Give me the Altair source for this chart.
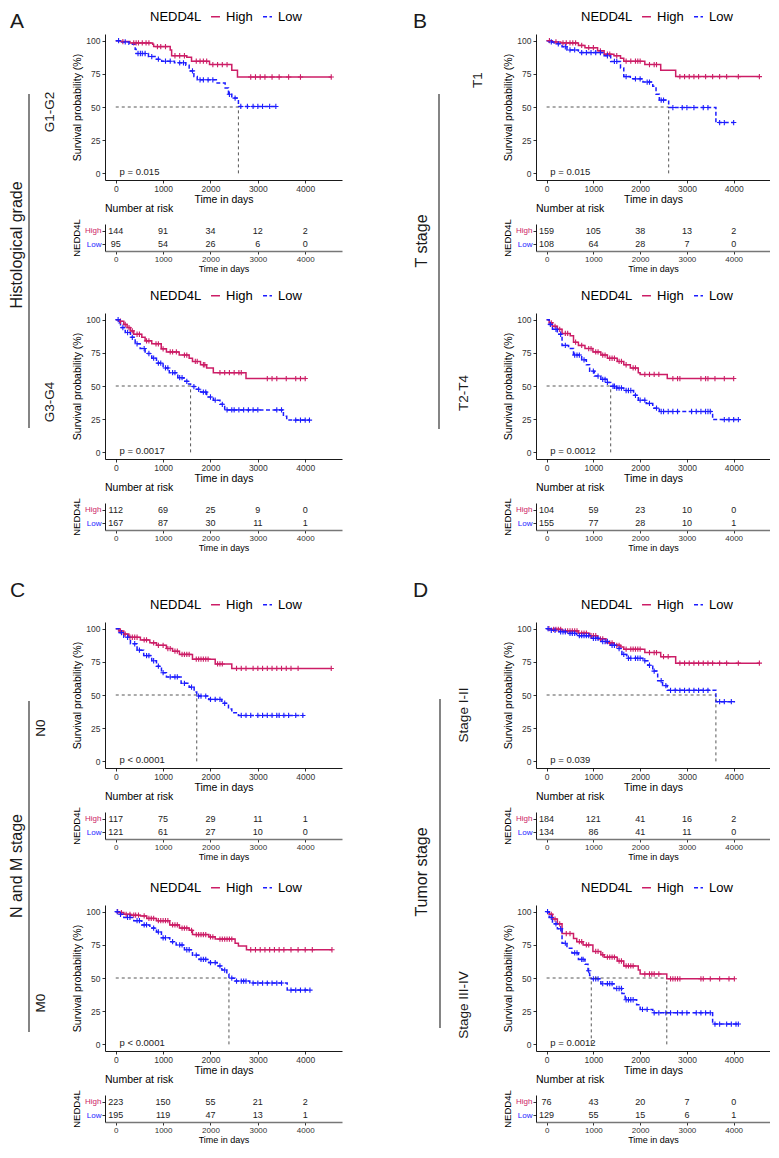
import altair as alt
import pandas as pd

# ---------------------------------------------------------------- data
GROUPS = ["High", "Low"]
RISK_TIMES = [0, 1000, 2000, 3000, 4000]

# A: Histological grade G1-G2
A1_HIGH_TIME = [0, 100, 300, 780, 800, 1150, 1180, 1500, 1600, 1980, 2450, 2570, 4550]
A1_HIGH_SURV = [100, 99.3, 98.3, 97.3, 95.5, 93.0, 88.6, 87.4, 84.5, 82.0, 77.6, 72.6, 72.6]
A1_HIGH_CENS = [150, 380, 430, 480, 560, 640, 700, 880, 950, 1050, 1250, 1350, 1450, 1700, 1780, 1850,
                1920, 2050, 2150, 2250, 2350, 2850, 2950, 3050, 3150, 3300, 3450, 3650, 3900, 4550]
A1_LOW_TIME = [0, 100, 280, 410, 430, 690, 830, 970, 1240, 1480, 1550, 1650, 1720, 2140, 2310, 2380, 2450, 2590, 3410]
A1_LOW_SURV = [100, 99.0, 97.3, 93.5, 90.3, 88.0, 86.0, 84.5, 83.3, 81.4, 77.2, 73.0, 70.5, 68.0, 64.4, 59.6, 56.7, 50.4, 50.4]
A1_LOW_CENS = [60, 200, 470, 520, 560, 620, 760, 900, 1050, 1150, 1350, 1430, 1620, 1780, 1850, 1950, 2050,
               2400, 2520, 2640, 2780, 2900, 3000, 3100, 3250, 3380]
A1_RISK_HIGH = [144, 91, 34, 12, 2]
A1_RISK_LOW = [95, 54, 26, 6, 0]
A1_PVAL = "p = 0.015"
A1_MEDIANS = [2590]

# A: Histological grade G3-G4
A2_HIGH_TIME = [0, 70, 170, 240, 310, 380, 550, 620, 760, 960, 1070, 1340, 1550, 1620, 1790, 1920, 2060, 2750, 4020]
A2_HIGH_SURV = [100, 98.8, 96.4, 94.0, 91.5, 89.0, 86.7, 84.0, 81.8, 78.0, 75.7, 73.3, 71.0, 68.5, 66.0, 63.6, 60.0, 55.6, 55.6]
A2_HIGH_CENS = [100, 200, 280, 350, 450, 500, 650, 700, 850, 900, 1000, 1150, 1200, 1280, 1450, 1500, 1680,
                1720, 1850, 1880, 2200, 2300, 2400, 2500, 2600, 2650, 3200, 3300, 3400, 3600, 3800, 3900, 4000]
A2_LOW_TIME = [0, 70, 100, 200, 310, 410, 515, 620, 760, 860, 1000, 1130, 1310, 1440, 1520, 1580, 1700, 1790,
               1920, 2060, 2200, 2300, 3540, 3610, 4090]
A2_LOW_SURV = [100, 97.6, 94.0, 90.3, 86.7, 81.8, 78.2, 74.5, 71.0, 67.2, 63.6, 60.0, 56.3, 53.5, 51.5, 49.6, 47.5,
               45.4, 41.7, 39.3, 36.2, 32.0, 27.2, 24.3, 24.3]
A2_LOW_CENS = [50, 150, 250, 350, 450, 600, 700, 800, 900, 950, 1050, 1100, 1200, 1250, 1350, 1400, 1500, 1650,
               1750, 1850, 1900, 2000, 2100, 2250, 2350, 2450, 2500, 2600, 2700, 2800, 2900, 3000, 3400, 3500,
               3800, 3900, 4000, 4090]
A2_RISK_HIGH = [112, 69, 25, 9, 0]
A2_RISK_LOW = [167, 87, 30, 11, 1]
A2_PVAL = "p = 0.0017"
A2_MEDIANS = [1580]

# B: T stage T1
B1_HIGH_TIME = [0, 125, 300, 680, 820, 1090, 1230, 1440, 1580, 1650, 2100, 2440, 2760, 4550]
B1_HIGH_SURV = [100, 99.0, 98.3, 96.4, 94.7, 92.3, 89.8, 88.6, 86.7, 84.5, 82.0, 77.7, 72.9, 72.9]
B1_HIGH_CENS = [60, 200, 350, 420, 500, 560, 620, 750, 900, 1000, 1150, 1300, 1350, 1500, 1700, 1800, 1900,
                1950, 2000, 2200, 2300, 2350, 2850, 2950, 3050, 3150, 3250, 3400, 3550, 3700, 3850, 4100, 4550]
B1_LOW_TIME = [0, 55, 160, 330, 435, 680, 1230, 1370, 1580, 1650, 1790, 2060, 2270, 2340, 2410, 2610, 3620, 4000]
B1_LOW_SURV = [100, 99.0, 97.6, 95.4, 93.0, 91.0, 88.6, 84.3, 79.4, 72.9, 71.2, 68.8, 65.6, 59.6, 55.2, 49.6, 38.3, 38.3]
B1_LOW_CENS = [100, 250, 400, 500, 600, 750, 850, 950, 1050, 1150, 1300, 1450, 1500, 1700, 1900, 2000, 2150,
               2200, 2450, 2500, 2700, 2900, 3000, 3150, 3350, 3450, 3700, 3800, 4000]
B1_RISK_HIGH = [159, 105, 38, 13, 2]
B1_RISK_LOW = [108, 64, 28, 7, 0]
B1_PVAL = "p = 0.015"
B1_MEDIANS = [2610]

# B: T stage T2-T4
B2_HIGH_TIME = [0, 55, 125, 230, 330, 505, 575, 680, 820, 990, 1160, 1300, 1510, 1650, 1790, 1960, 2000, 2580, 4000]
B2_HIGH_SURV = [100, 97.6, 95.0, 92.7, 89.6, 87.9, 83.0, 80.6, 78.2, 75.7, 73.3, 70.9, 68.5, 66.0, 63.6, 60.0, 58.7, 55.6, 55.6]
B2_HIGH_CENS = [100, 180, 280, 400, 450, 620, 750, 900, 950, 1050, 1100, 1200, 1250, 1350, 1400, 1450, 1550,
                1600, 1700, 1850, 1900, 2100, 2200, 2300, 2400, 2700, 2800, 2850, 3300, 3400, 3450, 3600, 3800, 4000]
B2_LOW_TIME = [0, 55, 125, 230, 330, 470, 575, 750, 850, 920, 1020, 1160, 1290, 1370, 1500, 1650, 1860, 1960,
               2130, 2270, 2410, 3550, 4100]
B2_LOW_SURV = [100, 96.4, 92.7, 89.0, 80.6, 78.2, 73.3, 69.7, 66.0, 61.2, 57.5, 55.0, 52.7, 49.8, 48.5, 46.6, 43.0,
               39.3, 36.9, 33.3, 30.8, 24.7, 24.7]
B2_LOW_CENS = [80, 200, 300, 400, 600, 650, 700, 800, 1000, 1100, 1200, 1250, 1300, 1420, 1450, 1500, 1550, 1600,
               1700, 1750, 1800, 1900, 2000, 2100, 2200, 2350, 2450, 2500, 2600, 2700, 2800, 3100, 3200, 3300,
               3400, 3450, 3500, 3800, 3900, 4000, 4100]
B2_RISK_HIGH = [104, 59, 23, 10, 0]
B2_RISK_LOW = [155, 77, 28, 10, 1]
B2_PVAL = "p = 0.0012"
B2_MEDIANS = [1370]

# C: N and M stage N0
C1_HIGH_TIME = [0, 70, 170, 275, 520, 720, 860, 1070, 1200, 1345, 1620, 2100, 2450, 4550]
C1_HIGH_SURV = [100, 98.3, 95.9, 93.5, 91.5, 89.3, 87.4, 85.0, 83.0, 80.6, 77.0, 73.4, 70.0, 70.0]
C1_HIGH_CENS = [100, 200, 300, 350, 400, 450, 600, 650, 800, 900, 1000, 1100, 1150, 1250, 1300, 1400, 1450,
                1500, 1550, 1700, 1750, 1800, 1850, 1900, 1950, 2150, 2200, 2250, 2550, 2650, 2750, 2900, 3000,
                3100, 3200, 3300, 3400, 3500, 3600, 3700, 3850, 4550]
C1_LOW_TIME = [0, 70, 170, 310, 450, 590, 760, 860, 965, 1070, 1380, 1550, 1655, 1710, 1965, 2240, 2380, 2450, 2590, 3965]
C1_LOW_SURV = [100, 97.0, 93.5, 88.6, 83.8, 79.7, 75.8, 71.7, 66.8, 63.6, 58.8, 55.9, 52.3, 49.2, 46.7, 43.8, 39.5, 36.6, 34.6, 34.6]
C1_LOW_CENS = [120, 250, 400, 500, 650, 700, 800, 900, 1000, 1150, 1250, 1300, 1450, 1600, 1750, 1800, 1900,
               2000, 2100, 2200, 2300, 2650, 2750, 2850, 3000, 3100, 3200, 3300, 3400, 3450, 3550, 3650, 3800, 3950]
C1_RISK_HIGH = [117, 75, 29, 11, 1]
C1_RISK_LOW = [121, 61, 27, 10, 0]
C1_PVAL = "p < 0.0001"
C1_MEDIANS = [1710]

# C: N and M stage M0
C2_HIGH_TIME = [0, 70, 170, 310, 520, 655, 860, 1140, 1345, 1550, 1620, 1965, 2100, 2520, 2590, 2760, 4565]
C2_HIGH_SURV = [100, 99.3, 98.0, 97.3, 96.8, 94.9, 93.2, 90.0, 87.6, 85.9, 82.7, 81.0, 79.3, 76.2, 74.2, 71.3, 71.3]
C2_HIGH_CENS = [40, 120, 220, 300, 380, 420, 480, 600, 700, 750, 800, 900, 950, 1000, 1050, 1100, 1200, 1250,
                1300, 1400, 1450, 1500, 1600, 1700, 1750, 1800, 1850, 1900, 2000, 2050, 2200, 2250, 2300, 2350,
                2400, 2450, 2850, 2950, 3050, 3150, 3250, 3350, 3450, 3550, 3700, 3850, 4000, 4150, 4565]
C2_LOW_TIME = [0, 70, 170, 380, 550, 720, 860, 965, 1140, 1275, 1450, 1620, 1760, 1965, 2140, 2240, 2345, 2390,
               2520, 2830, 3620, 4100]
C2_LOW_SURV = [100, 98.0, 95.6, 93.2, 90.0, 87.6, 84.7, 80.3, 77.4, 74.9, 71.3, 67.2, 64.0, 61.6, 59.1, 56.0, 53.0,
               49.9, 47.7, 46.2, 40.9, 40.9]
C2_LOW_CENS = [30, 100, 250, 300, 450, 500, 600, 650, 800, 900, 1000, 1050, 1200, 1350, 1400, 1500, 1550, 1700,
               1800, 1850, 1900, 2000, 2100, 2200, 2300, 2450, 2550, 2650, 2700, 2750, 2900, 3000, 3100, 3200,
               3300, 3400, 3500, 3700, 3800, 3900, 4000, 4100]
C2_RISK_HIGH = [223, 150, 55, 21, 2]
C2_RISK_LOW = [195, 119, 47, 13, 1]
C2_PVAL = "p < 0.0001"
C2_MEDIANS = [2390]

# D: Tumor stage I-II
D1_HIGH_TIME = [0, 90, 330, 680, 920, 1090, 1270, 1440, 1580, 1650, 2100, 2440, 2760, 4550]
D1_HIGH_SURV = [100, 99.5, 98.3, 96.6, 94.7, 92.3, 89.3, 87.4, 86.2, 84.5, 82.0, 78.9, 74.0, 74.0]
D1_HIGH_CENS = [50, 150, 200, 250, 300, 400, 450, 500, 550, 600, 650, 750, 800, 850, 950, 1000, 1050, 1150,
                1200, 1350, 1400, 1500, 1550, 1700, 1800, 1850, 1900, 1950, 2000, 2200, 2300, 2350, 2500, 2600,
                2850, 2950, 3050, 3150, 3250, 3350, 3450, 3550, 3700, 3850, 4100, 4550]
D1_LOW_TIME = [0, 90, 260, 435, 645, 955, 1160, 1370, 1510, 1610, 1715, 2060, 2165, 2270, 2375, 2480, 2580, 3620, 4030]
D1_LOW_SURV = [100, 98.8, 97.6, 96.4, 94.7, 92.7, 90.3, 87.4, 85.0, 80.6, 77.7, 75.8, 72.4, 68.0, 60.8, 57.1, 53.5, 45.0, 45.0]
D1_LOW_CENS = [30, 100, 180, 300, 350, 400, 500, 550, 600, 700, 750, 800, 850, 900, 1000, 1050, 1100, 1200,
               1250, 1300, 1400, 1450, 1550, 1650, 1750, 1800, 1900, 1950, 2000, 2100, 2200, 2300, 2450, 2550,
               2650, 2750, 2850, 2950, 3050, 3150, 3250, 3350, 3450, 3700, 3800, 3950]
D1_RISK_HIGH = [184, 121, 41, 16, 2]
D1_RISK_LOW = [134, 86, 41, 11, 0]
D1_PVAL = "p = 0.039"
D1_MEDIANS = [3620]

# D: Tumor stage III-IV
D2_HIGH_TIME = [0, 55, 125, 230, 330, 575, 645, 780, 990, 1160, 1230, 1510, 1650, 1960, 2000, 2570, 4015]
D2_HIGH_SURV = [100, 98.0, 94.4, 90.8, 83.5, 79.8, 77.4, 74.9, 70.0, 67.6, 65.7, 62.8, 59.1, 56.0, 53.0, 49.4, 49.4]
D2_HIGH_CENS = [100, 180, 280, 420, 500, 700, 750, 850, 900, 1050, 1100, 1200, 1300, 1350, 1400, 1450, 1550,
                1600, 1700, 1750, 1800, 1850, 2100, 2200, 2250, 2300, 2400, 2650, 2700, 2750, 2800, 2850, 3300,
                3350, 3500, 3700, 3900, 4015]
D2_LOW_TIME = [0, 55, 125, 230, 330, 435, 540, 680, 820, 885, 920, 955, 1160, 1440, 1610, 1680, 1925, 2000,
               2270, 3550, 4100]
D2_LOW_SURV = [100, 95.6, 90.8, 87.1, 76.2, 72.5, 68.9, 64.0, 60.3, 55.5, 51.8, 49.4, 45.7, 42.1, 38.4, 33.6,
               29.9, 26.3, 23.8, 15.3, 15.3]
D2_LOW_CENS = [20, 100, 200, 300, 400, 600, 650, 750, 780, 900, 1000, 1050, 1100, 1200, 1300, 1350, 1400,
               1500, 1550, 1600, 1700, 1750, 1800, 1850, 2050, 2150, 2300, 2400, 2550, 2650, 2800, 2900, 3000,
               3200, 3300, 3400, 3500, 3600, 3700, 3850, 3950, 4050, 4100]
D2_RISK_HIGH = [76, 43, 20, 7, 0]
D2_RISK_LOW = [129, 55, 15, 6, 1]
D2_PVAL = "p = 0.0012"
D2_MEDIANS = [955, 2570]

# annotation texts
PANEL_LETTERS = ["A", "B", "C", "D"]
GROUP_TITLES = ["Histological grade", "T stage", "N and M stage", "Tumor stage"]
SUB_TITLES = [["G1-G2", "G3-G4"], ["T1", "T2-T4"], ["N0", "M0"], ["Stage I-II", "Stage III-IV"]]

PANELS = {
    "A1": (A1_HIGH_TIME, A1_HIGH_SURV, A1_HIGH_CENS, A1_LOW_TIME, A1_LOW_SURV, A1_LOW_CENS, A1_RISK_HIGH, A1_RISK_LOW, A1_PVAL, A1_MEDIANS),
    "A2": (A2_HIGH_TIME, A2_HIGH_SURV, A2_HIGH_CENS, A2_LOW_TIME, A2_LOW_SURV, A2_LOW_CENS, A2_RISK_HIGH, A2_RISK_LOW, A2_PVAL, A2_MEDIANS),
    "B1": (B1_HIGH_TIME, B1_HIGH_SURV, B1_HIGH_CENS, B1_LOW_TIME, B1_LOW_SURV, B1_LOW_CENS, B1_RISK_HIGH, B1_RISK_LOW, B1_PVAL, B1_MEDIANS),
    "B2": (B2_HIGH_TIME, B2_HIGH_SURV, B2_HIGH_CENS, B2_LOW_TIME, B2_LOW_SURV, B2_LOW_CENS, B2_RISK_HIGH, B2_RISK_LOW, B2_PVAL, B2_MEDIANS),
    "C1": (C1_HIGH_TIME, C1_HIGH_SURV, C1_HIGH_CENS, C1_LOW_TIME, C1_LOW_SURV, C1_LOW_CENS, C1_RISK_HIGH, C1_RISK_LOW, C1_PVAL, C1_MEDIANS),
    "C2": (C2_HIGH_TIME, C2_HIGH_SURV, C2_HIGH_CENS, C2_LOW_TIME, C2_LOW_SURV, C2_LOW_CENS, C2_RISK_HIGH, C2_RISK_LOW, C2_PVAL, C2_MEDIANS),
    "D1": (D1_HIGH_TIME, D1_HIGH_SURV, D1_HIGH_CENS, D1_LOW_TIME, D1_LOW_SURV, D1_LOW_CENS, D1_RISK_HIGH, D1_RISK_LOW, D1_PVAL, D1_MEDIANS),
    "D2": (D2_HIGH_TIME, D2_HIGH_SURV, D2_HIGH_CENS, D2_LOW_TIME, D2_LOW_SURV, D2_LOW_CENS, D2_RISK_HIGH, D2_RISK_LOW, D2_PVAL, D2_MEDIANS),
}

# ---------------------------------------------------------------- style / layout
RED = "#cc1d66"
BLUE = "#1c1cff"
FONT = "Liberation Sans"
X_DOMAIN = [-227, 4777]
Y_DOMAIN = [-5, 105]
KM_H = 146
RISK_H = 27
COL_W = [96, 237, 194, 234]
ROW_H = [25, KM_H, 44, RISK_H, 62, KM_H, 44, RISK_H, 92, KM_H, 44, RISK_H, 66, KM_H, 44, RISK_H]
PLUS = "M-1,0L1,0M0,-1L0,1"


def step_value(times, surv, t):
    val = surv[0]
    for ti, si in zip(times, surv):
        if ti <= t:
            val = si
    return val


def color_scale():
    return alt.Scale(domain=GROUPS, range=[RED, BLUE])


def dash_scale():
    return alt.Scale(domain=GROUPS, range=[[1, 0], [4, 2.5]])


def km_chart(key, width):
    ht, hs, hc, lt, ls, lc, rh, rl, pval, medians = PANELS[key]
    curve_rows, cens_rows = [], []
    for g, tt, ss, cc in [("High", ht, hs, hc), ("Low", lt, ls, lc)]:
        for t, s in zip(tt, ss):
            curve_rows.append({"time": t, "surv": s, "group": g})
        for t in cc:
            cens_rows.append({"time": t, "surv": step_value(tt, ss, t), "group": g})
    curve_df = pd.DataFrame(curve_rows)
    cens_df = pd.DataFrame(cens_rows)

    xs = alt.Scale(domain=X_DOMAIN, nice=False, zero=False)
    ys = alt.Scale(domain=Y_DOMAIN, nice=False, zero=False)
    x_axis = alt.Axis(values=RISK_TIMES, format="d", grid=False, domainColor="black", domainWidth=0.9,
                      tickColor="#333", tickSize=3, labelFontSize=8.5, labelColor="#333", labelPadding=1,
                      titleFontSize=10.5, titleFontWeight="normal", titleColor="black", titlePadding=2)
    y_axis = alt.Axis(values=[0, 25, 50, 75, 100], format="d", grid=False, domainColor="black", domainWidth=0.9,
                      tickColor="#333", tickSize=3, labelFontSize=8.5, labelColor="#333", labelPadding=2,
                      titleFontSize=10.5, titleFontWeight="normal", titleColor="black", titlePadding=3)
    X = alt.X("time:Q", scale=xs, axis=x_axis, title="Time in days")
    Y = alt.Y("surv:Q", scale=ys, axis=y_axis, title="Survival probability (%)")

    leg = alt.Legend(orient="none", legendX=45, legendY=-24, direction="horizontal", titleOrient="left",
                     titleFontSize=13, titleFontWeight="normal", titleColor="black", labelFontSize=13,
                     labelColor="black", symbolType="stroke", symbolSize=80, symbolStrokeWidth=1.6,
                     titlePadding=7, columnPadding=6, labelOffset=4, titleAnchor="middle", titleBaseline="middle")

    lines = alt.Chart(curve_df).mark_line(interpolate="step-after", strokeWidth=1.5).encode(
        x=X, y=Y,
        color=alt.Color("group:N", scale=color_scale(), legend=leg, title="NEDD4L"),
        strokeDash=alt.StrokeDash("group:N", scale=dash_scale(), legend=leg, title="NEDD4L"),
    )
    points = alt.Chart(cens_df).mark_point(shape=PLUS, size=28, filled=False, strokeWidth=1.1, opacity=1).encode(
        x=X, y=Y, color=alt.Color("group:N", scale=color_scale(), legend=None, title="NEDD4L"),
    )
    hline_df = pd.DataFrame({"time": [0], "time2": [max(medians)], "surv": [50]})
    vline_df = pd.DataFrame({"time": medians, "surv": [0] * len(medians), "surv2": [50] * len(medians)})
    hline = alt.Chart(hline_df).mark_rule(color="#444", strokeDash=[3, 3], strokeWidth=0.9).encode(
        x=X, x2="time2:Q", y=Y)
    vline = alt.Chart(vline_df).mark_rule(color="#444", strokeDash=[3, 3], strokeWidth=0.9).encode(
        x=X, y=Y, y2="surv2:Q")
    ptext_df = pd.DataFrame({"time": [80], "surv": [1], "label": [pval]})
    ptext = alt.Chart(ptext_df).mark_text(align="left", baseline="middle", fontSize=9.5, color="#222").encode(
        x=X, y=Y, text="label:N")
    return alt.layer(lines, points, hline, vline, ptext).properties(width=width, height=KM_H)


def risk_chart(key, width):
    ht, hs, hc, lt, ls, lc, rh, rl, pval, medians = PANELS[key]
    rows = []
    for g, counts in [("High", rh), ("Low", rl)]:
        for t, n in zip(RISK_TIMES, counts):
            rows.append({"time": t, "group": g, "n": str(n)})
    df = pd.DataFrame(rows)
    label_color = {"condition": {"test": "datum.value === 'High'", "value": RED}, "value": BLUE}
    return alt.Chart(df).mark_text(fontSize=9, color="#222").encode(
        x=alt.X("time:Q", scale=alt.Scale(domain=X_DOMAIN, nice=False, zero=False),
                axis=alt.Axis(values=RISK_TIMES, format="d", grid=False, domainColor="#777", domainWidth=1.6,
                              tickColor="#333", tickSize=3, labelFontSize=8, labelColor="#333", labelPadding=1,
                              titleFontSize=9, titleFontWeight="normal", titleColor="black", titlePadding=1),
                title="Time in days"),
        y=alt.Y("group:N", scale=alt.Scale(domain=GROUPS, paddingOuter=0.125, paddingInner=0),
                axis=alt.Axis(grid=False, domainColor="black", domainWidth=0.9, tickColor="#333", tickSize=3,
                              labelFontSize=8, labelColor=label_color, labelPadding=1,
                              titleFontSize=9.5, titleFontWeight="normal", titleColor="black", titlePadding=3),
                title="NEDD4L"),
        text="n:N",
    ).properties(width=width, height=RISK_H,
                 title=alt.TitleParams("Number at risk", anchor="start", frame="group", fontSize=10.5,
                                       fontWeight="normal", color="black", offset=4))


def cell_origin(r, c):
    return 8 + sum(COL_W[:c]), 8 + sum(ROW_H[:r])


def strip_chart(r, c, idx, letter_xy, group_xy, line_x, line_y, sub_xys):
    ox, oy = cell_origin(r, c)
    letter_df = pd.DataFrame({"px": [letter_xy[0] - ox], "py": [letter_xy[1] - oy], "label": [PANEL_LETTERS[idx]]})
    group_df = pd.DataFrame({"px": [group_xy[0] - ox], "py": [group_xy[1] - oy], "label": [GROUP_TITLES[idx]]})
    sub_df = pd.DataFrame({"px": [p[0] - ox for p in sub_xys], "py": [p[1] - oy for p in sub_xys],
                           "label": SUB_TITLES[idx]})
    line_df = pd.DataFrame({"px": [line_x - ox], "py": [line_y[0] - oy], "py2": [line_y[1] - oy]})
    PX = alt.X("px:Q", scale=None, axis=None)
    PY = alt.Y("py:Q", scale=None, axis=None)
    letters = alt.Chart(letter_df).mark_text(fontSize=21, align="left", baseline="middle", color="#1a1a1a").encode(
        x=PX, y=PY, text="label:N")
    groups = alt.Chart(group_df).mark_text(fontSize=16, angle=270, align="center", baseline="middle",
                                           color="#1a1a1a").encode(x=PX, y=PY, text="label:N")
    subs = alt.Chart(sub_df).mark_text(fontSize=13.5, angle=270, align="center", baseline="middle",
                                       color="#1a1a1a").encode(x=PX, y=PY, text="label:N")
    rule = alt.Chart(line_df).mark_rule(color="#333", strokeWidth=1.2).encode(x=PX, y=PY, y2="py2:Q")
    return alt.layer(rule, letters, groups, subs).properties(width=COL_W[c], height=ROW_H[r])


SPACER_DF = pd.DataFrame({"v": [0]})


def spacer(w, h):
    return alt.Chart(SPACER_DF).mark_point(opacity=0, size=1).encode(
        x=alt.value(0), y=alt.value(0)).properties(width=w, height=h)


cells = {
    (0, 0): strip_chart(0, 0, 0, (9, 21), (16, 244), 28, (93, 427), [(49, 111), (49, 401)]),
    (0, 2): strip_chart(0, 2, 1, (412, 21), (421, 240), 438, (93, 428), [(477, 79), (463, 392)]),
    (8, 0): strip_chart(8, 0, 2, (9, 590), (16, 865), 28, (700, 1031), [(40, 727), (40, 1002)]),
    (8, 2): strip_chart(8, 2, 3, (412, 590), (421, 871), 439, (698, 1027), [(463, 714), (463, 1004)]),
}
for (r, left_key, right_key) in [(1, "A1", "B1"), (5, "A2", "B2"), (9, "C1", "D1"), (13, "C2", "D2")]:
    cells[(r, 1)] = km_chart(left_key, COL_W[1])
    cells[(r, 3)] = km_chart(right_key, COL_W[3])
    cells[(r + 2, 1)] = risk_chart(left_key, COL_W[1])
    cells[(r + 2, 3)] = risk_chart(right_key, COL_W[3])

grid = []
for r in range(len(ROW_H)):
    for c in range(4):
        grid.append(cells.get((r, c), spacer(1, ROW_H[r])))

chart = alt.concat(*grid, columns=4, spacing=0, bounds="flush").resolve_scale(
    color="independent", strokeDash="independent"
).properties(padding=0).configure(font=FONT).configure_view(stroke=None)

chart.save("out.html", embed_options={"renderer": "svg", "actions": False})
